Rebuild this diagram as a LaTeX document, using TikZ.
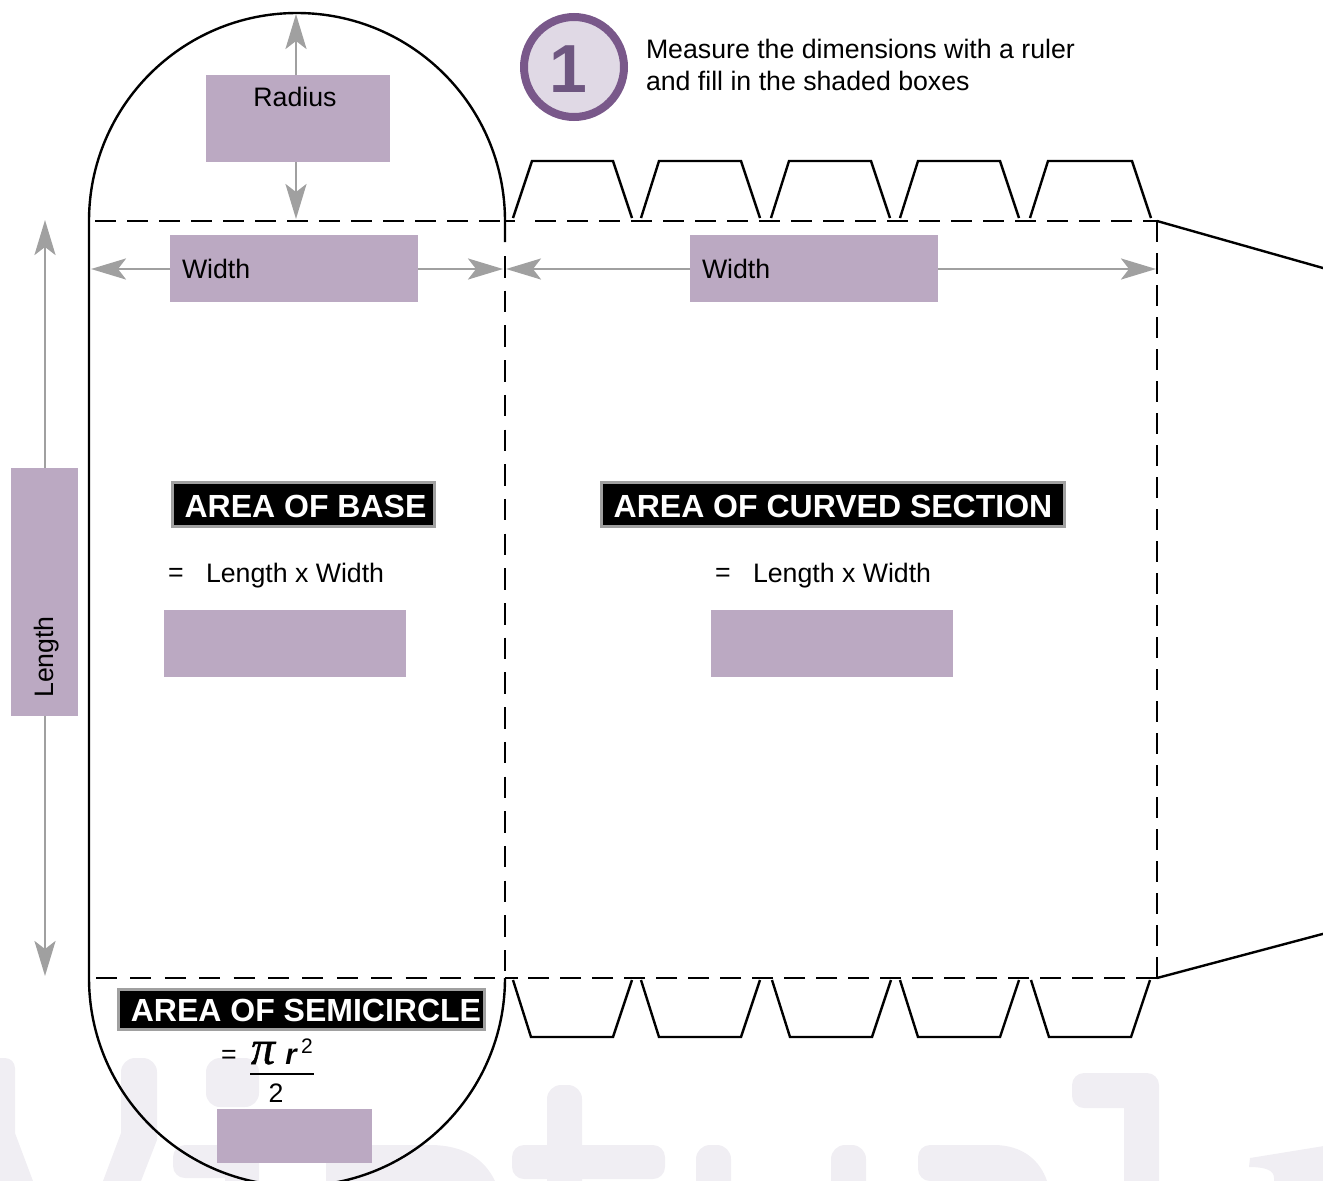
\documentclass[tikz,border=0pt]{standalone}
\usepackage{fontspec}
\setmainfont{Liberation Sans}
\newfontfamily\serifpi[ItalicFeatures={FakeBold=1}]{Liberation Serif}
\usetikzlibrary{arrows.meta}
\definecolor{boxpurple}{HTML}{BBA9C2}
\definecolor{arrowgrey}{HTML}{A0A0A0}
\definecolor{ringpurple}{HTML}{79588A}
\definecolor{ringfill}{HTML}{E0D9E5}
\definecolor{oneink}{HTML}{6E5680}
\definecolor{wm}{HTML}{F0EEF3}
\tikzset{
  fillbox/.style={fill=boxpurple,draw=none,inner sep=0pt,outer sep=0pt},
  dimarrow/.style={draw=arrowgrey,line width=2.8pt,-{Stealth[length=35pt,width=21pt,inset=8pt,fill=arrowgrey]}},
  outline/.style={draw=black,line width=2.4pt},
  flap/.style={draw=black,line width=2.4pt,line join=miter},
  foldline/.style={draw=black,line width=2.4pt,dash pattern=on 21pt off 11pt},
  foldmid/.style={draw=black,line width=2.4pt,dash pattern=on 21.5pt off 13.2pt},
  foldbot/.style={draw=black,line width=2.4pt,dash pattern=on 21pt off 13.4pt},
  titlebox/.style={fill=black,draw=arrowgrey,line width=3pt,text=white,font=\bfseries\fontsize{32}{36}\selectfont,inner sep=0pt,outer sep=0pt},
  plain/.style={font=\fontsize{26.7}{30}\selectfont,inner sep=0pt,outer sep=0pt,text=black},
  wmshape/.style={fill=wm,draw=none}
}
\begin{document}
\begin{tikzpicture}[x=1pt,y=-1pt]
\useasboundingbox (0,0) rectangle (1323,1181);
\clip (0,0) rectangle (1323,1181);
% watermark
\fill[wmshape] (-30,1181) -- (-30,1070) [rounded corners=10pt] -- (-30,1058) -- (15,1058) [rounded corners=0pt] -- (15,1133) -- (33,1181) -- cycle;
\fill[wmshape] (103,1181) -- (121,1133) [rounded corners=14pt] -- (121,1058) -- (157,1058) [rounded corners=0pt] -- (157,1140) -- (141,1181) -- cycle;
\fill[wmshape,rounded corners=14pt] (206,1058) rectangle (259,1107);
\fill[wmshape] (225,1181) -- (225,1178) [rounded corners=12pt] -- (173,1178) -- (173,1145) [rounded corners=0pt] -- (259,1145) -- (259,1181) -- cycle;
\fill[wmshape] (326,1181) [rounded corners=10pt] -- (326,1145) [rounded corners=0pt] -- (430,1145) .. controls (465,1145) and (485,1160) .. (495,1181) -- cycle;
\fill[wmshape] (547,1181) [rounded corners=14pt] -- (547,1085) -- (582,1085) [rounded corners=0pt] -- (582,1145) [rounded corners=12pt] -- (665,1145) -- (665,1179) [rounded corners=0pt] -- (582,1179) -- (582,1181) -- cycle;
\fill[wmshape] (547,1179) [rounded corners=12pt] -- (512,1179) -- (512,1145) [rounded corners=0pt] -- (547,1145) -- cycle;
\fill[wmshape] (696,1181) [rounded corners=14pt] -- (696,1145) -- (731,1145) [rounded corners=0pt] -- (731,1181) -- cycle;
\fill[wmshape] (831,1181) [rounded corners=14pt] -- (831,1145) -- (866,1145) [rounded corners=0pt] -- (866,1181) -- cycle;
\fill[wmshape] (995,1181) [rounded corners=12pt] -- (918,1181) -- (918,1145) [rounded corners=0pt] -- (994,1145) .. controls (1022,1145) and (1040,1160) .. (1047,1181) -- cycle;
\fill[wmshape] (1124,1181) -- (1124,1108) [rounded corners=12pt] -- (1072,1108) -- (1072,1073) -- (1159,1073) [rounded corners=0pt] -- (1159,1181) -- cycle;
\fill[wmshape] (1250,1158) -- (1330,1145) -- (1330,1185) -- (1274,1185) -- (1274,1178) .. controls (1274,1170) and (1265,1167) .. (1249,1167) -- cycle;

% fold lines and cut outline
\coordinate (topL) at (95,221);
\coordinate (topMidA) at (500,221);
\coordinate (topMidB) at (505,221);
\coordinate (topMidC) at (515,221);
\coordinate (topMidD) at (535,221);
\coordinate (topR) at (1157,221);
\coordinate (botL) at (96,978);
\coordinate (botMidA) at (498,978);
\coordinate (botMidB) at (505,978);
\coordinate (botMidC) at (518,978);
\coordinate (botMidD) at (528,978);
\coordinate (botR) at (1157,978);
\coordinate (midT) at (505,256);
\coordinate (midB) at (505,971);
\draw[foldline] (topL) -- (topMidA);
\draw[foldline] (topMidB) -- (topMidC);
\draw[foldline] (topMidD) -- (topR);
\draw[foldbot] (botL) -- (botMidA);
\draw[foldline] (botMidB) -- (botMidC);
\draw[foldline] (botR) -- (botMidD);
\draw[foldmid] (midT) -- (midB);
\draw[foldline] (topR) -- (botR);
\draw[outline] (505,242) -- (505,221) arc[start angle=0,end angle=-180,radius=208] -- (89,978) arc[start angle=180,end angle=0,radius=208];
\coordinate (edgeA) at (1330,270);
\coordinate (edgeB) at (1330,932);
\draw[outline] (topR) -- (edgeA);
\draw[outline] (botR) -- (edgeB);

% flaps
\foreach \a/\b/\c/\d in {513/532/613/632,641/659/741/760,771/789/871/890,900/918/1000/1019,1030/1048/1132/1151}
  \draw[flap] (\a,218) -- (\b,161) -- (\c,161) -- (\d,218);
\foreach \a/\b/\c/\d in {513/531/613/632,641/659/741/760,772/790/872/891,900/918/1000/1019,1031/1049/1131/1150}
  \draw[flap] (\a,980) -- (\b,1037) -- (\c,1037) -- (\d,980);

% fill-in boxes
\node[fillbox,minimum width=184pt,minimum height=87pt] (radiusbox) at (298,118.5) {};
\node[plain] (radiuslabel) at (295,97) {Radius};
\node[fillbox,minimum width=248pt,minimum height=67pt] (widthA) at (294,268.5) {};
\node[plain,anchor=base west] (widthAt) at (182,278) {Width};
\node[fillbox,minimum width=248pt,minimum height=67pt] (widthB) at (814,268.5) {};
\node[plain,anchor=base west] (widthBt) at (702,278) {Width};
\node[fillbox,minimum width=67pt,minimum height=248pt] (lengthbox) at (44.5,592) {};
\node[plain,rotate=90,anchor=base] (lengtht) at (53,657) {Length};
\node[fillbox,minimum width=242pt,minimum height=67pt] (ansA) at (285,643.5) {};
\node[fillbox,minimum width=242pt,minimum height=67pt] (ansB) at (832,643.5) {};
\node[fillbox,minimum width=155pt,minimum height=54pt] (ansC) at (294.5,1136) {};

% dimension arrows
\coordinate (radUp) at (296,14);
\coordinate (radDown) at (296,219);
\coordinate (wAl) at (91,269);
\coordinate (wAr) at (503,269);
\coordinate (wBl) at (506,269);
\coordinate (wBr) at (1156,269);
\coordinate (lenUp) at (45,220);
\coordinate (lenDown) at (45,976);
\draw[dimarrow] (radiusbox.north -| radUp) -- (radUp);
\draw[dimarrow] (radiusbox.south -| radDown) -- (radDown);
\draw[dimarrow] (widthA.west |- wAl) -- (wAl);
\draw[dimarrow] (widthA.east |- wAr) -- (wAr);
\draw[dimarrow] (widthB.west |- wBl) -- (wBl);
\draw[dimarrow] (widthB.east |- wBr) -- (wBr);
\draw[dimarrow] (lengthbox.north -| lenUp) -- (lenUp);
\draw[dimarrow] (lengthbox.south -| lenDown) -- (lenDown);

% step badge
\node[circle,fill=ringfill,draw=ringpurple,line width=8pt,minimum size=100pt,inner sep=0pt] (badge) at (574,67) {};
\node[text=oneink,font=\bfseries\fontsize{68}{70}\selectfont,inner sep=0pt] (badgenum) at (568,69) {1};
\node[plain,anchor=base west] (introA) at (646,58) {Measure the dimensions with a ruler};
\node[plain,anchor=base west] (introB) at (646,90) {and fill in the shaded boxes};

% titles
\node[titlebox,minimum width=262pt,minimum height=44pt] (baseT) at (303.5,504.5) {\raisebox{-2pt}[\height][0pt]{\hspace*{4pt}AREA OF BASE}};
\node[titlebox,minimum width=463pt,minimum height=44pt] (curveT) at (833,504.5) {\raisebox{-2pt}[\height][0pt]{AREA OF CURVED SECTION}};
\node[titlebox,minimum width=366pt,minimum height=40pt] (semiT) at (301.5,1009.5) {\raisebox{-1pt}[\height][0pt]{\hspace*{9pt}AREA OF SEMICIRCLE}};

% formulas
\node[plain] (eqA) at (176,575) {=};
\node[plain,anchor=base west] (lwA) at (206,582) {Length x Width};
\node[plain] (eqB) at (723,575) {=};
\node[plain,anchor=base west] (lwB) at (753,582) {Length x Width};
\node[plain] (eqC) at (229,1057) {=};
\node[inner sep=0pt,anchor=base,font=\serifpi\itshape\fontsize{48}{48}\selectfont] (pisym) at (263,1064) {π};
\node[inner sep=0pt,anchor=base,font=\itshape\bfseries\fontsize{29}{29}\selectfont] (rsym) at (291,1064) {r};
\node[inner sep=0pt,anchor=base,font=\fontsize{21}{21}\selectfont] (sq) at (307,1053) {2};
\coordinate (fracL) at (250,1074);
\coordinate (fracR) at (314,1074);
\draw[black,line width=1.5pt] (fracL) -- (fracR);
\node[plain] (two) at (276,1093) {2};
\end{tikzpicture}
\end{document}
